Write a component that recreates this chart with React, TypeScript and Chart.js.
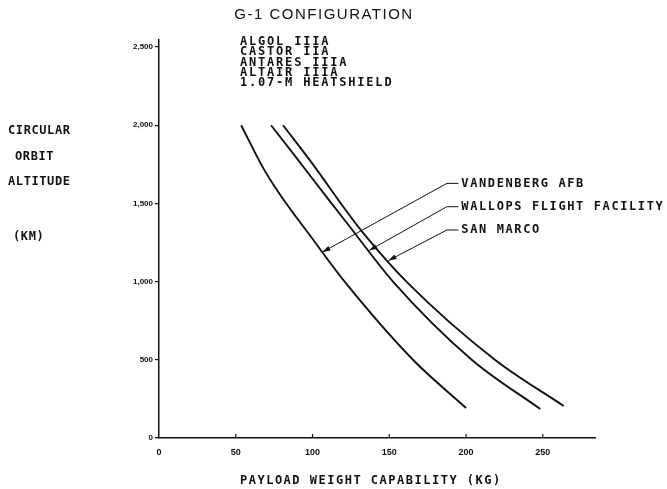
import { useEffect, useRef } from "react";
import { Chart, registerables } from "chart.js";

Chart.register(...registerables);

// ---- text ----
const chartTitle = "G-1 CONFIGURATION";
const configLines = ["ALGOL IIIA", "CASTOR IIA", "ANTARES IIIA", "ALTAIR IIIA", "1.07-M HEATSHIELD"];
const xTitle = "PAYLOAD WEIGHT CAPABILITY (KG)";
const yTitleLines = ["CIRCULAR", "ORBIT", "ALTITUDE", "(KM)"];

// ---- axes ----
const xTickValues = [0, 50, 100, 150, 200, 250];
const xTickLabels = ["0", "50", "100", "150", "200", "250"];
const yTickValues = [0, 500, 1000, 1500, 2000, 2500];
const yTickLabels = ["0", "500", "1,000", "1,500", "2,000", "2,500"];
const xMin = 0;
const xMax = 284;
const yMin = 0;
const yMax = 2545;

// ---- series (payload kg vs circular orbit altitude km) ----
const seriesNames = ["VANDENBERG AFB", "WALLOPS FLIGHT FACILITY", "SAN MARCO"];
const vandenbergKg = [53.5, 68, 79, 97.3, 121.2, 165.6, 200];
const vandenbergKm = [2000, 1724, 1554, 1309, 997, 499, 192];
const wallopsKg = [73, 89.8, 111.5, 123.4, 152.7, 203.9, 248.4];
const wallopsKm = [2000, 1788, 1511, 1362, 997, 499, 185];
const sanMarcoKg = [80.8, 100.6, 122.4, 133.2, 161.5, 219, 263.6];
const sanMarcoKm = [2000, 1745, 1447, 1309, 997, 499, 205];

// ---- leader lines (label anchor -> arrow tip on curve) ----
const leaderLabelKg = 195;
const leaderElbowKg = 187.5;
const leaderLabelKm = [1628, 1479, 1330];
const leaderTipKg = [106.5, 137, 149.5];
const leaderTipKm = [1189, 1200, 1135];

const INK = "#111111";
const MONO = "'DejaVu Sans Mono', monospace";

function pts(xs: number[], ys: number[]) {
  return xs.map((x, i) => ({ x, y: ys[i] }));
}

const textPlugin = {
  id: "chartText",
  afterDraw(chart: any) {
    const ctx = chart.ctx as CanvasRenderingContext2D;
    const xs = chart.scales.x;
    const ys = chart.scales.y;
    const { left, bottom } = chart.chartArea;
    ctx.save();
    ctx.fillStyle = INK;
    ctx.strokeStyle = INK;

    // inside x tick marks
    ctx.lineWidth = 1.2;
    xTickValues.forEach((v) => {
      if (v === 0) return;
      const px = xs.getPixelForValue(v);
      ctx.beginPath();
      ctx.moveTo(px, bottom);
      ctx.lineTo(px, bottom - 4);
      ctx.stroke();
    });

    // arrowheads
    leaderTipKg.forEach((kg, i) => {
      const tx = xs.getPixelForValue(kg);
      const ty = ys.getPixelForValue(leaderTipKm[i]);
      const ex = xs.getPixelForValue(leaderElbowKg);
      const ey = ys.getPixelForValue(leaderLabelKm[i]);
      const ang = Math.atan2(ty - ey, tx - ex);
      const L = 8;
      const W = 2.6;
      ctx.beginPath();
      ctx.moveTo(tx, ty);
      ctx.lineTo(tx - L * Math.cos(ang) + W * Math.sin(ang), ty - L * Math.sin(ang) - W * Math.cos(ang));
      ctx.lineTo(tx - L * Math.cos(ang) - W * Math.sin(ang), ty - L * Math.sin(ang) + W * Math.cos(ang));
      ctx.closePath();
      ctx.fill();
    });

    // title
    (ctx as any).letterSpacing = "1.5px";
    ctx.font = "15px 'Liberation Sans', Arial, sans-serif";
    ctx.textAlign = "center";
    ctx.textBaseline = "middle";
    ctx.fillText(chartTitle, 324, 15);

    // mono texts
    ctx.font = `bold 12px ${MONO}`;
    (ctx as any).letterSpacing = "1.8px";
    ctx.textAlign = "left";
    configLines.forEach((t, i) => {
      ctx.fillText(t, left + 81, 42 + i * 10.3);
    });

    (ctx as any).letterSpacing = "1.5px";
    ctx.fillText(xTitle, left + 81, 481);

    (ctx as any).letterSpacing = "1.6px";
    seriesNames.forEach((t, i) => {
      const px = xs.getPixelForValue(leaderLabelKg) + 3;
      const py = ys.getPixelForValue(leaderLabelKm[i]);
      ctx.fillText(t, px, py);
    });

    (ctx as any).letterSpacing = "0.6px";
    const yTitleX = [8, 15, 8, 13];
    const yTitleY = [131, 157, 182, 237];
    yTitleLines.forEach((t, i) => {
      ctx.fillText(t, yTitleX[i], yTitleY[i]);
    });

    ctx.restore();
  },
};

export default function App() {
  const ref = useRef<HTMLCanvasElement | null>(null);

  useEffect(() => {
    if (!ref.current) return;
    const curveStyle = {
      borderColor: INK,
      borderWidth: 1.9,
      pointRadius: 0,
      fill: false,
      cubicInterpolationMode: "monotone" as const,
    };
    const leaderStyle = {
      borderColor: INK,
      borderWidth: 1,
      pointRadius: 0,
      fill: false,
      tension: 0,
    };
    const leaders = seriesNames.map((name, i) => ({
      label: name + " leader",
      data: [
        { x: leaderLabelKg, y: leaderLabelKm[i] },
        { x: leaderElbowKg, y: leaderLabelKm[i] },
        { x: leaderTipKg[i], y: leaderTipKm[i] },
      ],
      ...leaderStyle,
    }));

    const chart = new Chart(ref.current, {
      type: "line",
      data: {
        datasets: [
          { label: seriesNames[0], data: pts(vandenbergKg, vandenbergKm), ...curveStyle },
          { label: seriesNames[1], data: pts(wallopsKg, wallopsKm), ...curveStyle },
          { label: seriesNames[2], data: pts(sanMarcoKg, sanMarcoKm), ...curveStyle },
          ...leaders,
        ],
      },
      options: {
        animation: false,
        responsive: true,
        maintainAspectRatio: false,
        layout: { padding: { top: 40, right: 72, left: 0, bottom: 0 } },
        plugins: {
          legend: { display: false },
          title: { display: false },
          tooltip: { enabled: false },
        },
        scales: {
          x: {
            type: "linear",
            min: xMin,
            max: xMax,
            afterBuildTicks: (s: any) => {
              s.ticks = xTickValues.map((v) => ({ value: v }));
            },
            afterFit: (s: any) => {
              s.height = 51;
            },
            grid: { display: false },
            border: { display: true, color: INK, width: 1.5 },
            ticks: {
              autoSkip: false,
              maxRotation: 0,
              padding: 1,
              color: INK,
              font: { family: "'Liberation Sans', Arial, sans-serif", size: 9, weight: "bold" },
              callback: (_v: any, i: number) => xTickLabels[i],
            },
          },
          y: {
            type: "linear",
            min: yMin,
            max: yMax,
            afterBuildTicks: (s: any) => {
              s.ticks = yTickValues.map((v) => ({ value: v }));
            },
            afterFit: (s: any) => {
              s.width = 159;
            },
            grid: { display: true, drawOnChartArea: false, tickLength: 4, color: INK, lineWidth: 1.2 },
            border: { display: true, color: INK, width: 1.5 },
            ticks: {
              autoSkip: false,
              padding: 2,
              color: INK,
              font: { family: "'Liberation Sans', Arial, sans-serif", size: 8, weight: "bold" },
              callback: (_v: any, i: number) => yTickLabels[i],
            },
          },
        },
      },
      plugins: [textPlugin],
    });
    return () => chart.destroy();
  }, []);

  return (
    <div style={{ position: "fixed", left: 0, top: 0, width: 667, height: 489, background: "#fff" }}>
      <canvas ref={ref} />
    </div>
  );
}
